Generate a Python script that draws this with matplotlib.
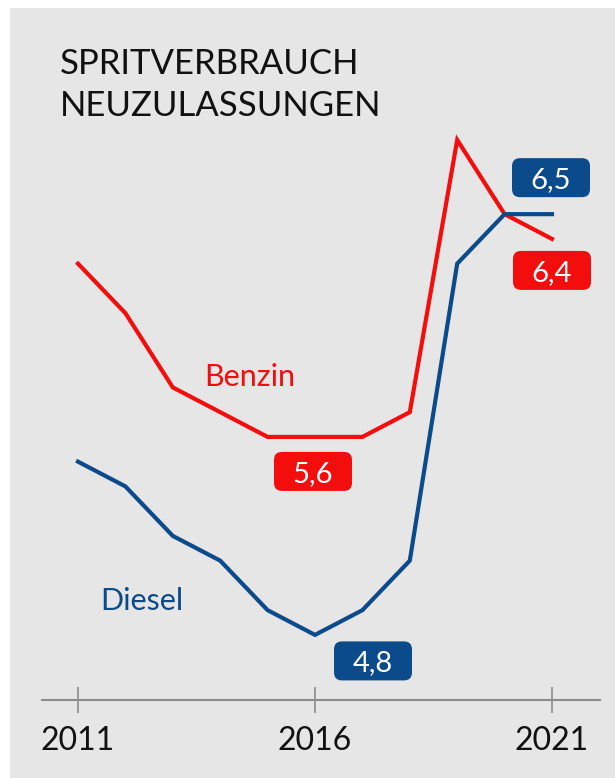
import matplotlib
matplotlib.use("Agg")
import matplotlib.pyplot as plt
from matplotlib.patches import Rectangle, FancyBboxPatch
from matplotlib.transforms import ScaledTranslation

years = list(range(2011, 2022))
benzin = [6.3, 6.1, 5.8, 5.7, 5.6, 5.6, 5.6, 5.7, 6.8, 6.5, 6.4]
diesel = [5.5, 5.4, 5.2, 5.1, 4.9, 4.8, 4.9, 5.1, 6.3, 6.5, 6.5]
tick_years = [2011, 2016, 2021]
title = "SPRITVERBRAUCH\nNEUZULASSUNGEN"

RED = "#f40d0d"
BLUE = "#0b4a8b"
BG = "#e6e6e6"
GRAY = "#8c8c8c"
FONT = ["Lato", "DejaVu Sans"]

W, H = 615, 778
fig = plt.figure(figsize=(W / 100, H / 100), dpi=100)
fig.patch.set_facecolor("white")
fig.patches.append(Rectangle((10 / W, 0), 1 - 10 / W, 1 - 8 / H,
                             transform=fig.transFigure, facecolor=BG,
                             edgecolor="none", zorder=-10))

# axes: left 42px, right 600px, bottom at y=700px (from top), top at 100px
ax = fig.add_axes([42 / W, (H - 700) / H, (600 - 42) / W, 600 / H])
ax.set_zorder(5)
ax.set_facecolor("none")
ax.set_xlim(2010.2405, 2022.0127)
ax.set_ylim(4.537, 4.537 + 600 / 247.5)

ax.plot(years, benzin, color=RED, lw=3.0, solid_joinstyle="miter", clip_on=False)
ax.plot(years, diesel, color=BLUE, lw=3.0, solid_joinstyle="miter", clip_on=False)

for s in ["top", "left", "right"]:
    ax.spines[s].set_visible(False)
ax.spines["bottom"].set_color(GRAY)
ax.spines["bottom"].set_linewidth(1.5)
ax.set_yticks([])
ax.set_xticks(tick_years)
ax.set_xticklabels([str(y) for y in tick_years], fontsize=23, family=FONT, color="#111111")
ax.tick_params(axis="x", direction="inout", length=19, width=1.2, color=GRAY, pad=9)

BW, BH, BR = 0.78, 0.39, 0.08  # box size in inches


def box(x, y, txt, color, dxp, dyp):
    """dxp, dyp: offset of box centre from data point, in pixels (y up)."""
    trans = fig.dpi_scale_trans + ScaledTranslation(x, y, ax.transData)
    cx, cy = dxp / 100, dyp / 100
    p = FancyBboxPatch((cx - BW / 2, cy - BH / 2), BW, BH,
                       boxstyle=f"round,pad=0,rounding_size={BR}",
                       transform=trans, fc=color, ec="none", clip_on=False, zorder=3)
    ax.add_patch(p)
    ax.annotate(txt, (x, y), xytext=(dxp * 0.72, (dyp - 10.5) * 0.72),
                textcoords="offset points", ha="center", va="baseline",
                fontsize=21, family=FONT, color="white", zorder=4,
                annotation_clip=False)


i16 = years.index(2016)
i21 = years.index(2021)
box(years[i16], benzin[i16], "5,6", RED, -2, -34.5)
box(years[i16], diesel[i16], "4,8", BLUE, 58, -26)
box(years[i21], diesel[i21], "6,5", BLUE, -1, 36.5)
box(years[i21], benzin[i21], "6,4", RED, 0, -31.5)

ax.annotate("Benzin", (years[3], benzin[3]), xytext=(30 * 0.72, 26 * 0.72),
            textcoords="offset points", ha="center", va="baseline",
            fontsize=22, family=FONT, color=RED)
ax.annotate("Diesel", (years[1], diesel[1]), xytext=(16 * 0.72, -124 * 0.72),
            textcoords="offset points", ha="center", va="baseline",
            fontsize=22, family=FONT, color=BLUE)

fig.text(60 / W, 1 - 48 / H, title, ha="left", va="top", fontsize=25,
         family=FONT, color="#111111", linespacing=1.4)

fig.savefig("out.png", dpi=100)
